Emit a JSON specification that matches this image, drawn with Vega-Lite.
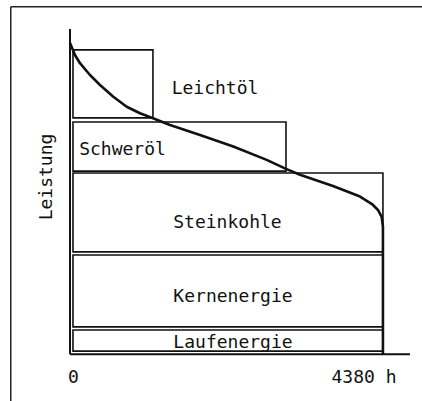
{
  "$schema": "https://vega.github.io/schema/vega-lite/v6.json",
  "width": 412,
  "height": 395,
  "autosize": {"type": "none"},
  "padding": {"left": 10, "top": 6, "right": 0, "bottom": 0},
  "background": "white",
  "config": {
    "view": {"stroke": null},
    "text": {"font": "DejaVu Sans Mono", "fontSize": 18, "color": "#111"}
  },
  "datasets": {
    "frame": [
      {"h0": -879, "h1": 4932, "p0": 111.75, "p1": 111.75},
      {"h0": -879, "h1": -879, "p0": 111.75, "p1": -15.05}
    ],
    "blocks": [
      {"name": "Leichtöl", "h0": 0, "h1": 1130, "p0": 76.0, "p1": 97.9},
      {"name": "Schweröl", "h0": 0, "h1": 3010, "p0": 58.9, "p1": 74.7},
      {"name": "Steinkohle", "h0": 0, "h1": 4380, "p0": 32.9, "p1": 58.3},
      {"name": "Kernenergie", "h0": 0, "h1": 4380, "p0": 8.8, "p1": 31.9},
      {"name": "Laufenergie", "h0": 0, "h1": 4380, "p0": 1.0, "p1": 7.8}
    ],
    "curve": [
      {"i": 0, "h": -42, "p": 100.1},
      {"i": 1, "h": 28, "p": 96.25},
      {"i": 2, "h": 99, "p": 93.6},
      {"i": 3, "h": 240, "p": 89.8},
      {"i": 4, "h": 382, "p": 86.6},
      {"i": 5, "h": 570, "p": 82.8},
      {"i": 6, "h": 759, "p": 79.6},
      {"i": 7, "h": 947, "p": 77.5},
      {"i": 8, "h": 1131, "p": 75.9},
      {"i": 9, "h": 1371, "p": 73.7},
      {"i": 10, "h": 1795, "p": 70.5},
      {"i": 11, "h": 2265, "p": 66.8},
      {"i": 12, "h": 2737, "p": 62.5},
      {"i": 13, "h": 3010, "p": 59.6},
      {"i": 14, "h": 3208, "p": 57.7},
      {"i": 15, "h": 3674, "p": 54.1},
      {"i": 16, "h": 4056, "p": 50.7},
      {"i": 17, "h": 4225, "p": 48.3},
      {"i": 18, "h": 4310, "p": 46.4},
      {"i": 19, "h": 4362, "p": 44.2},
      {"i": 20, "h": 4380, "p": 41.0},
      {"i": 21, "h": 4380, "p": 0}
    ],
    "axes": [
      {"h0": -42, "h1": -42, "p0": 0, "p1": 104.6},
      {"h0": -42, "h1": 4762, "p0": 0, "p1": 0}
    ],
    "labels": [
      {"label": "Leichtöl", "h": 2007, "p": 83.6},
      {"label": "Schweröl", "h": 700, "p": 64.1},
      {"label": "Steinkohle", "h": 2183, "p": 40.5},
      {"label": "Kernenergie", "h": 2261, "p": 16.9},
      {"label": "Laufenergie", "h": 2261, "p": 2.1},
      {"label": "0", "h": 5, "p": -9.3},
      {"label": "4380 h", "h": 4112, "p": -9.3}
    ],
    "ytitle": [
      {"label": "Leistung", "h": -296, "p": 57.0}
    ]
  },
  "layer": [
    {
      "data": {"name": "frame"},
      "mark": {"type": "rule", "stroke": "#222", "strokeWidth": 1.5},
      "encoding": {
        "x": {"field": "h0", "type": "quantitative", "scale": {"domain": [-890, 4932], "nice": false, "zero": false}, "axis": null},
        "x2": {"field": "h1"},
        "y": {"field": "p0", "type": "quantitative", "scale": {"domain": [-15.05, 112], "nice": false, "zero": false}, "axis": null},
        "y2": {"field": "p1"}
      }
    },
    {
      "data": {"name": "blocks"},
      "mark": {"type": "rect", "fill": null, "fillOpacity": 0, "stroke": "#111", "strokeWidth": 1.6},
      "encoding": {
        "x": {"field": "h0", "type": "quantitative", "scale": {"domain": [-890, 4932], "nice": false, "zero": false}, "axis": null},
        "x2": {"field": "h1"},
        "y": {"field": "p0", "type": "quantitative", "scale": {"domain": [-15.05, 112], "nice": false, "zero": false}, "axis": null},
        "y2": {"field": "p1"}
      }
    },
    {
      "data": {"name": "curve"},
      "mark": {"type": "line", "stroke": "#111", "strokeWidth": 2.6, "strokeJoin": "round"},
      "encoding": {
        "x": {"field": "h", "type": "quantitative", "scale": {"domain": [-890, 4932], "nice": false, "zero": false}, "axis": null},
        "y": {"field": "p", "type": "quantitative", "scale": {"domain": [-15.05, 112], "nice": false, "zero": false}, "axis": null},
        "order": {"field": "i", "type": "quantitative"}
      }
    },
    {
      "data": {"name": "axes"},
      "mark": {"type": "rule", "stroke": "#111", "strokeWidth": 2},
      "encoding": {
        "x": {"field": "h0", "type": "quantitative", "scale": {"domain": [-890, 4932], "nice": false, "zero": false}, "axis": null},
        "x2": {"field": "h1"},
        "y": {"field": "p0", "type": "quantitative", "scale": {"domain": [-15.05, 112], "nice": false, "zero": false}, "axis": null},
        "y2": {"field": "p1"}
      }
    },
    {
      "data": {"name": "labels"},
      "mark": {"type": "text", "align": "center", "baseline": "alphabetic"},
      "encoding": {
        "x": {"field": "h", "type": "quantitative", "scale": {"domain": [-890, 4932], "nice": false, "zero": false}, "axis": null},
        "y": {"field": "p", "type": "quantitative", "scale": {"domain": [-15.05, 112], "nice": false, "zero": false}, "axis": null},
        "text": {"field": "label"}
      }
    },
    {
      "data": {"name": "ytitle"},
      "mark": {"type": "text", "align": "center", "baseline": "alphabetic", "angle": 270},
      "encoding": {
        "x": {"field": "h", "type": "quantitative", "scale": {"domain": [-890, 4932], "nice": false, "zero": false}, "axis": null},
        "y": {"field": "p", "type": "quantitative", "scale": {"domain": [-15.05, 112], "nice": false, "zero": false}, "axis": null},
        "text": {"field": "label"}
      }
    }
  ]
}
